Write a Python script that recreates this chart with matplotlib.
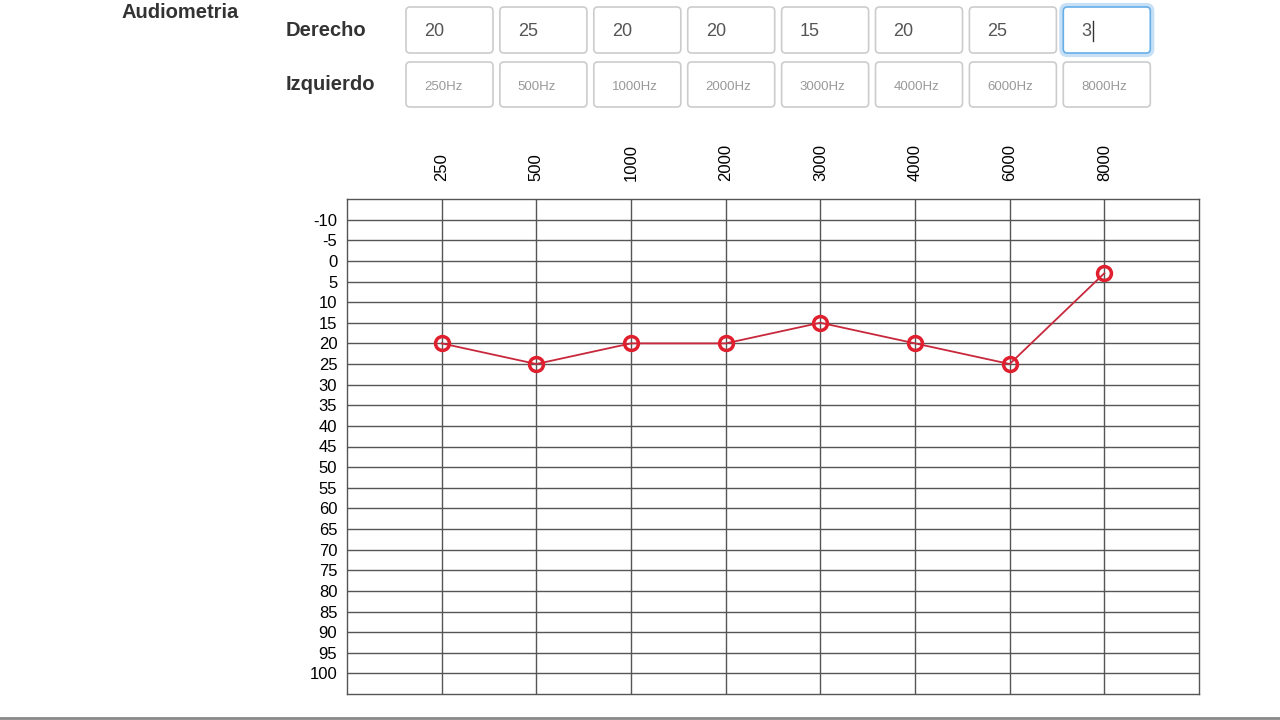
import numpy as np
import matplotlib.pyplot as plt
from matplotlib.patches import FancyBboxPatch

plt.rcParams['font.family'] = ['Liberation Sans', 'DejaVu Sans']

# data
freqs = ["250", "500", "1000", "2000", "3000", "4000", "6000", "8000"]
placeholders = ["250Hz", "500Hz", "1000Hz", "2000Hz", "3000Hz", "4000Hz", "6000Hz", "8000Hz"]
derecho = [20, 25, 20, 20, 15, 20, 25, 3]
derecho_text = ["20", "25", "20", "20", "15", "20", "25", "3"]
db_ticks = list(range(-10, 105, 5))

W, H = 1280, 720
fig = plt.figure(figsize=(W / 100, H / 100), dpi=100)
fig.patch.set_facecolor("white")

# pixel-space layer for the form part of the page
bg = fig.add_axes([0, 0, 1, 1])
bg.set_xlim(0, W)
bg.set_ylim(H, 0)
bg.axis("off")

bg.text(121, 13, "Audiometria", fontsize=14.5, fontweight="bold", color="#333333", va="center", ha="left")
bg.text(286, 31, "Derecho", fontsize=14.5, fontweight="bold", color="#333333", va="center", ha="left")
bg.text(286, 85, "Izquierdo", fontsize=14.5, fontweight="bold", color="#333333", va="center", ha="left")

box_x0 = 406
box_step = 93.9
box_w = 87
for i in range(len(freqs)):
    x0 = box_x0 + i * box_step
    focused = i == len(freqs) - 1
    if focused:
        glow = FancyBboxPatch((x0 - 2, 5), box_w + 4, 50,
                              boxstyle="round,pad=0,rounding_size=6",
                              fc="none", ec="#b9d9f3", lw=3, alpha=0.8)
        bg.add_patch(glow)
    top = FancyBboxPatch((x0, 7), box_w, 46, boxstyle="round,pad=0,rounding_size=4",
                         fc="white", ec="#66afe9" if focused else "#cccccc", lw=1.2)
    bot = FancyBboxPatch((x0, 62), box_w, 45, boxstyle="round,pad=0,rounding_size=4",
                         fc="white", ec="#cccccc", lw=1.2)
    bg.add_patch(top)
    bg.add_patch(bot)
    bg.text(x0 + 18, 31, derecho_text[i], fontsize=13, color="#555555", va="center", ha="left")
    bg.text(x0 + 18, 87, placeholders[i], fontsize=9.5, color="#999999", va="center", ha="left")
    if focused:
        # text cursor after the typed value
        bg.plot([x0 + 30, x0 + 30], [21, 41], color="#333333", lw=1)

# page bottom line
bg.axhline(718, color="#888888", lw=2)

# audiogram
left, right, top_px, bot_px = 347, 1199, 199, 694
ax = fig.add_axes([left / W, 1 - bot_px / H, (right - left) / W, (bot_px - top_px) / H])
x = np.arange(len(freqs))
ax.set_xlim(-1, len(freqs))
ax.set_ylim(105, -15)
ax.set_xticks(x)
ax.set_xticklabels(freqs, rotation=90, fontsize=12)
ax.xaxis.tick_top()
ax.set_yticks(db_ticks)
ax.set_yticklabels([str(v) for v in db_ticks], fontsize=12)
ax.tick_params(axis="both", length=0, colors="black")
ax.tick_params(axis="y", pad=7)
ax.tick_params(axis="x", pad=13)
ax.grid(True, color="#555555", lw=1.0)
for s in ax.spines.values():
    s.set_color("#555555")
    s.set_linewidth(1.0)

ax.plot(x, derecho, color="#c8283c", lw=1.3, marker="o", ms=10, mfc="none",
        mec="#e0202e", mew=2.5, zorder=5)

fig.savefig("out.png", dpi=100, facecolor="white")
